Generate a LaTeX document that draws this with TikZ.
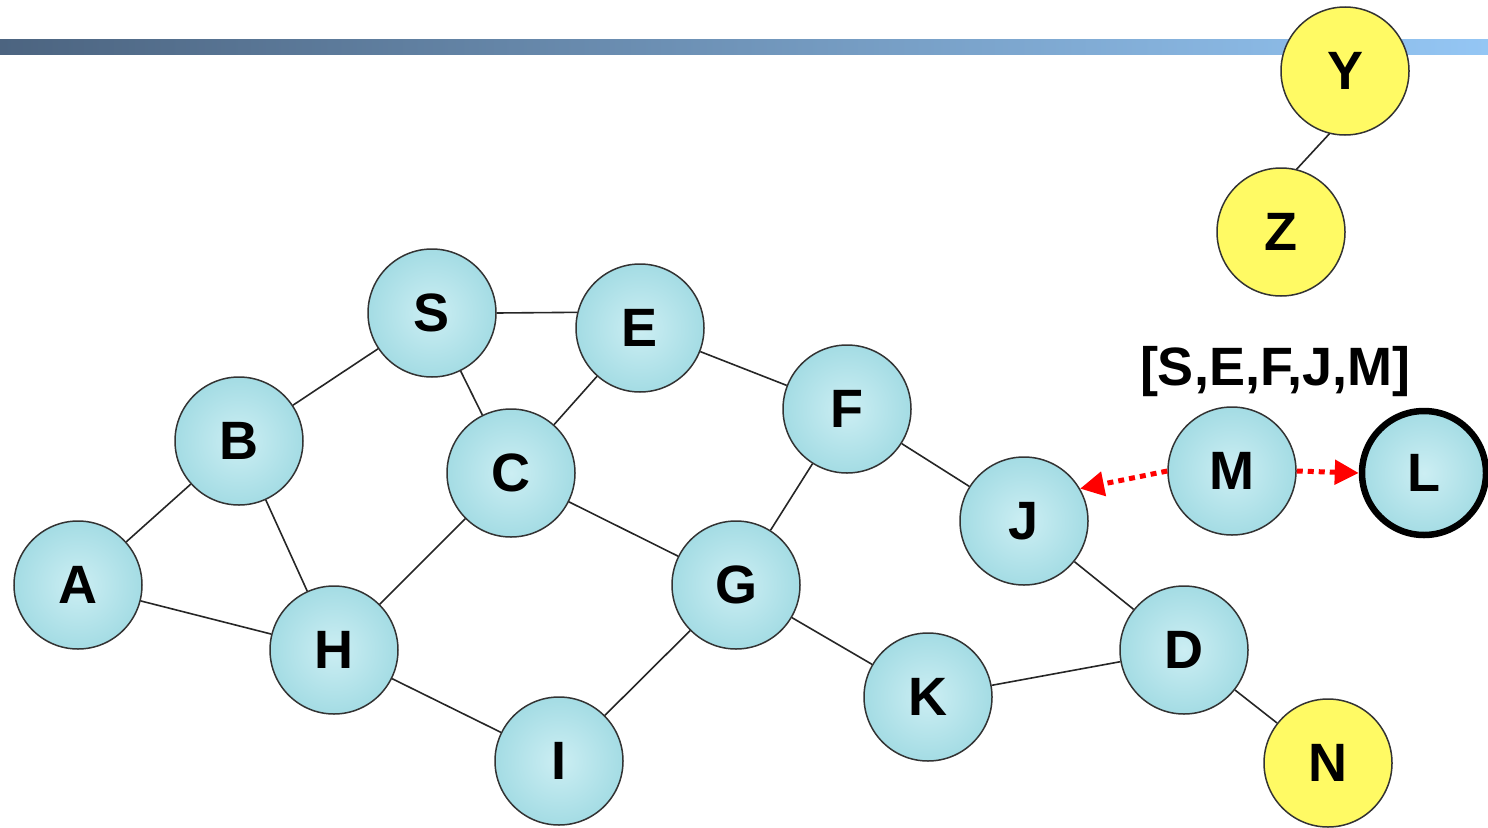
\documentclass[tikz,border=0pt]{standalone}
\usepackage{fontspec}
\setmainfont{Liberation Sans}
\usetikzlibrary{arrows.meta}
\definecolor{nodefill}{RGB}{164,220,228}
\definecolor{nodelite}{RGB}{204,238,243}
\definecolor{ylw}{RGB}{255,250,100}
\definecolor{barL}{RGB}{76,100,128}
\definecolor{barR}{RGB}{148,198,244}
\begin{document}
\begin{tikzpicture}[x=1pt,y=-1pt,
  nd/.style={circle,draw=black!80,line width=1.5pt,minimum size=128pt,inner sep=0pt,
    inner color=nodelite,outer color=nodefill,font=\fontsize{54}{54}\selectfont\bfseries},
  yn/.style={nd,inner color=ylw,outer color=ylw,fill=ylw},
  ed/.style={draw=black!85,line width=1.6pt},
  rd/.style={draw=red,line width=5pt,dash pattern=on 6pt off 5pt,-{Triangle[length=24pt,width=24pt]}}]
\useasboundingbox (0,0) rectangle (1488,827);
\shade[left color=barL,right color=barR] (0,39) rectangle (1488,54);
\node[nd] (S) at (432,313) {S};
\node[nd] (E) at (640,328) {E};
\node[nd] (B) at (239,441) {B};
\node[nd] (C) at (511,473) {C};
\node[nd] (F) at (847,409) {F};
\node[nd] (A) at (78,585) {A};
\node[nd] (H) at (334,650) {H};
\node[nd] (G) at (736,585) {G};
\node[nd] (J) at (1024,521) {J};
\node[nd] (M) at (1232,471) {M};
\node[nd,draw=black,line width=6.5pt,minimum size=124pt] (L) at (1424,473) {L};
\node[nd] (K) at (928,697) {K};
\node[nd] (D) at (1184,650) {D};
\node[nd] (I) at (559,761) {I};
\node[yn] (N) at (1328,763) {N};
\node[yn] (Y) at (1345,71) {Y};
\node[yn] (Z) at (1281,232) {Z};
\node[font=\fontsize{54}{54}\selectfont\bfseries] (lab) at (1275,372) {[S,E,F,J,M]};
\foreach \a/\b in {S/B,S/C,E/C,E/F,B/A,B/H,A/H,C/H,C/G,F/G,F/J,H/I,G/I,G/K,K/D,J/D,D/N}
  \draw[ed] (\a) -- (\b);
\draw[ed] (S.east) -- (E.166);
\draw[ed] (Y.256) -- (Z.76);
\draw[rd] (M.west) -- (J.30);
\draw[rd] (M.east) -- (L.west);
\end{tikzpicture}
\end{document}
